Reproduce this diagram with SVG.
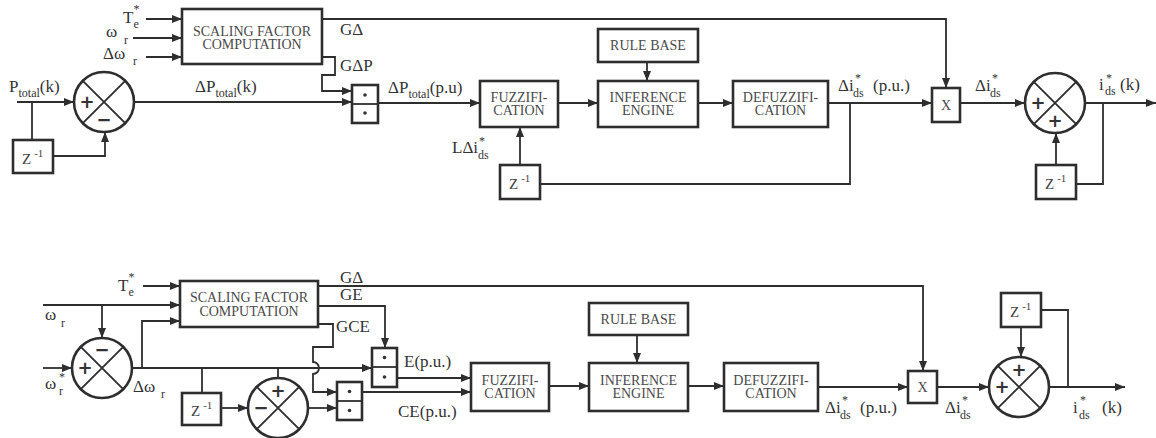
<svg xmlns="http://www.w3.org/2000/svg" width="1156" height="438" viewBox="0 0 1156 438">
<defs>
<marker id="a" viewBox="0 0 10 8" refX="10" refY="4" markerWidth="11" markerHeight="8" orient="auto" markerUnits="userSpaceOnUse"><path d="M0,0 L10,4 L0,8 z" fill="#2e2e2e"/></marker>
<style>
.bx{fill:none;stroke:#2e2e2e;stroke-width:2.6}
.ln{fill:none;stroke:#2e2e2e;stroke-width:1.8}
.ar{fill:none;stroke:#2e2e2e;stroke-width:1.8;marker-end:url(#a)}
.bt{font-family:"Liberation Serif",serif;font-size:14px;fill:#4a4a4a;text-anchor:middle}
.lb{font-family:"Liberation Serif",serif;font-size:17px;fill:#333}
.sb{font-size:12px}
.sg{font-family:"DejaVu Sans",sans-serif;font-size:18px;font-weight:bold;fill:#333;text-anchor:middle}
.zt{font-family:"Liberation Serif",serif;font-size:15px;fill:#444}
.zs{font-size:11px}
.dot{fill:#333}
</style>
</defs>
<rect width="1156" height="438" fill="#fff"/>

<g id="connectors">
<path class="ar" d="M146,19 H182"/>
<path class="ar" d="M133,38 H182"/>
<path class="ar" d="M146,57 H182"/>
<path class="ar" d="M322,19 H946 V88"/>
<path class="ar" d="M322,57 H335 V75 H322 V91 H352"/>
<path class="ar" d="M17,102 H74"/>
<path class="ln" d="M32,102 V140"/>
<path class="ar" d="M53,156 H105 V132"/>
<path class="ar" d="M134,102 H352"/>
<path class="ar" d="M378,103 H480"/>
<path class="ar" d="M558,103 H598"/>
<path class="ar" d="M647,62 V81"/>
<path class="ar" d="M698,103 H733"/>
<path class="ar" d="M828,103 H932"/>
<path class="ar" d="M520,165 V127"/>
<path class="ln" d="M540,184 H850 V103"/>
<path class="ar" d="M960,103 H1025"/>
<path class="ar" d="M1085,103 H1156"/>
<path class="ln" d="M1103,103 V184 H1076"/>
<path class="ar" d="M1056,165 V133"/>
<path class="ar" d="M143,286 H180"/>
<path class="ar" d="M43,305 H180"/>
<path class="ar" d="M102,305 V338"/>
<path class="ar" d="M43,368 H72"/>
<path class="ar" d="M132,368 H372"/>
<path class="ar" d="M142,368 V321 H180"/>
<path class="ar" d="M318,286 H923 V371"/>
<path class="ar" d="M318,306 H385 V348"/>
<path class="ar" d="M318,324 H333 V347 H313 V362 A6,6 0 0 1 313,374 V392 H337"/>
<path class="ln" d="M202,368 V393"/>
<path class="ar" d="M221,408 H248"/>
<path class="ln" d="M278,368 V378"/>
<path class="ar" d="M308,408 H337"/>
<path class="ar" d="M397,378 H471"/>
<path class="ar" d="M362,392 H471"/>
<path class="ar" d="M549,386 H589"/>
<path class="ar" d="M637,335 V363"/>
<path class="ar" d="M688,386 H724"/>
<path class="ar" d="M818,387 H908"/>
<path class="ar" d="M937,387 H989"/>
<path class="ar" d="M1049,387 H1125"/>
<path class="ln" d="M1068,387 V310 H1041"/>
<path class="ar" d="M1021,327 V357"/>
</g>

<g id="t-scaling"><rect class="bx" x="182" y="9" width="140" height="55"/>
<text class="bt" x="252" y="36">SCALING FACTOR</text><text class="bt" x="252" y="49">COMPUTATION</text></g>
<g id="t-sum1"><circle class="bx" cx="104" cy="102" r="30"/>
<path class="ln" d="M82.8,80.8 L125.2,123.2 M125.2,80.8 L82.8,123.2"/>
<text class="sg" x="87" y="108">+</text><text class="sg" x="104" y="126">−</text></g>
<g id="t-z1"><rect class="bx" x="13" y="140" width="40" height="33"/>
<text class="zt" x="22" y="164">Z<tspan class="zs" dx="3" dy="-7">-1</tspan></text></g>
<g id="t-mult"><rect class="bx" x="352" y="85" width="26" height="38"/>
<path class="ln" d="M352,104 H378"/><circle class="dot" cx="365" cy="95" r="1.8"/><circle class="dot" cx="365" cy="113" r="1.8"/></g>
<g id="t-fuzz"><rect class="bx" x="480" y="81" width="78" height="46"/>
<text class="bt" x="519" y="102">FUZZIFI-</text><text class="bt" x="519" y="115">CATION</text></g>
<g id="t-rule"><rect class="bx" x="598" y="29" width="100" height="33"/>
<text class="bt" x="648" y="50">RULE BASE</text></g>
<g id="t-inf"><rect class="bx" x="598" y="81" width="100" height="46"/>
<text class="bt" x="648" y="102">INFERENCE</text><text class="bt" x="648" y="115">ENGINE</text></g>
<g id="t-defuzz"><rect class="bx" x="733" y="81" width="95" height="46"/>
<text class="bt" x="780.5" y="102">DEFUZZIFI-</text><text class="bt" x="780.5" y="115">CATION</text></g>
<g id="t-z2"><rect class="bx" x="500" y="165" width="40" height="34"/>
<text class="zt" x="509" y="189">Z<tspan class="zs" dx="3" dy="-7">-1</tspan></text></g>
<g id="t-x"><rect class="bx" x="932" y="88" width="28" height="34"/>
<text class="bt" x="946" y="110">X</text></g>
<g id="t-sum2"><circle class="bx" cx="1055" cy="103" r="30"/>
<path class="ln" d="M1033.8,81.8 L1076.2,124.2 M1076.2,81.8 L1033.8,124.2"/>
<text class="sg" x="1038" y="109">+</text><text class="sg" x="1055" y="127">+</text></g>
<g id="t-z3"><rect class="bx" x="1036" y="165" width="40" height="34"/>
<text class="zt" x="1045" y="189">Z<tspan class="zs" dx="3" dy="-7">-1</tspan></text></g>

<g id="t-labels">
<text class="lb" x="123" y="23">T<tspan class="sb" x="133.5" y="13">*</tspan><tspan class="sb" x="133.5" y="28">e</tspan></text>
<text class="lb" x="106" y="37">ω<tspan class="sb" x="124" y="44">r</tspan></text>
<text class="lb" x="103" y="59">Δω<tspan class="sb" x="133" y="65">r</tspan></text>
<text class="lb" x="340" y="35">GΔ</text>
<text class="lb" x="340" y="71">GΔP</text>
<text class="lb" x="9" y="92">P<tspan class="sb" y="97">total</tspan><tspan y="92">(k)</tspan></text>
<text class="lb" x="195" y="92">ΔP<tspan class="sb" y="97">total</tspan><tspan y="92">(k)</tspan></text>
<text class="lb" x="388" y="93">ΔP<tspan class="sb" y="98">total</tspan><tspan y="93">(p.u)</tspan></text>
<text class="lb" x="452" y="153">LΔi<tspan class="sb" x="479" y="145">*</tspan><tspan class="sb" x="478" y="159">ds</tspan></text>
<text class="lb" x="838" y="91">Δi<tspan class="sb" x="855" y="82">*</tspan><tspan class="sb" x="853" y="97">ds</tspan><tspan x="873" y="91">(p.u.)</tspan></text>
<text class="lb" x="975" y="91">Δi<tspan class="sb" x="992" y="82">*</tspan><tspan class="sb" x="990" y="97">ds</tspan></text>
<text class="lb" x="1099" y="90">i<tspan class="sb" x="1106" y="82">*</tspan><tspan class="sb" x="1105" y="95">ds</tspan><tspan x="1120" y="90">(k)</tspan></text>
</g>

<g id="b-scaling"><rect class="bx" x="180" y="281" width="138" height="46"/>
<text class="bt" x="249" y="302">SCALING FACTOR</text><text class="bt" x="249" y="316">COMPUTATION</text></g>
<g id="b-sum1"><circle class="bx" cx="102" cy="368" r="30"/>
<path class="ln" d="M80.8,346.8 L123.2,389.2 M123.2,346.8 L80.8,389.2"/>
<text class="sg" x="85" y="374">+</text><text class="sg" x="102" y="356">−</text></g>
<g id="b-z1"><rect class="bx" x="182" y="393" width="39" height="32"/>
<text class="zt" x="191" y="416">Z<tspan class="zs" dx="3" dy="-7">-1</tspan></text></g>
<g id="b-sum2"><circle class="bx" cx="278" cy="408" r="30"/>
<path class="ln" d="M256.8,386.8 L299.2,429.2 M299.2,386.8 L256.8,429.2"/>
<text class="sg" x="278" y="397">+</text><text class="sg" x="261" y="414">−</text></g>
<g id="b-mult1"><rect class="bx" x="372" y="348" width="25" height="39"/>
<path class="ln" d="M372,367 H397"/><circle class="dot" cx="384.5" cy="357.5" r="1.8"/><circle class="dot" cx="384.5" cy="377" r="1.8"/></g>
<g id="b-mult2"><rect class="bx" x="337" y="382" width="25" height="38"/>
<path class="ln" d="M337,401 H362"/><circle class="dot" cx="349.5" cy="391.5" r="1.8"/><circle class="dot" cx="349.5" cy="410.5" r="1.8"/></g>
<g id="b-fuzz"><rect class="bx" x="471" y="363" width="78" height="48"/>
<text class="bt" x="510" y="385">FUZZIFI-</text><text class="bt" x="510" y="398">CATION</text></g>
<g id="b-rule"><rect class="bx" x="589" y="303" width="99" height="32"/>
<text class="bt" x="638.5" y="324">RULE BASE</text></g>
<g id="b-inf"><rect class="bx" x="589" y="363" width="99" height="48"/>
<text class="bt" x="638.5" y="385">INFERENCE</text><text class="bt" x="638.5" y="398">ENGINE</text></g>
<g id="b-defuzz"><rect class="bx" x="724" y="363" width="94" height="48"/>
<text class="bt" x="771" y="385">DEFUZZIFI-</text><text class="bt" x="771" y="398">CATION</text></g>
<g id="b-x"><rect class="bx" x="908" y="371" width="29" height="32"/>
<text class="bt" x="922.5" y="392">X</text></g>
<g id="b-sum3"><circle class="bx" cx="1019" cy="387" r="30"/>
<path class="ln" d="M997.8,365.8 L1040.2,408.2 M1040.2,365.8 L997.8,408.2"/>
<text class="sg" x="1019" y="376">+</text><text class="sg" x="1002" y="393">+</text></g>
<g id="b-z2"><rect class="bx" x="1001" y="293" width="40" height="34"/>
<text class="zt" x="1010" y="317">Z<tspan class="zs" dx="3" dy="-7">-1</tspan></text></g>

<g id="b-labels">
<text class="lb" x="118" y="291">T<tspan class="sb" x="128.5" y="281">*</tspan><tspan class="sb" x="128.5" y="296">e</tspan></text>
<text class="lb" x="45" y="320">ω<tspan class="sb" x="61" y="327">r</tspan></text>
<text class="lb" x="45" y="389">ω<tspan class="sb" x="59" y="381">*</tspan><tspan class="sb" x="59" y="395">r</tspan></text>
<text class="lb" x="133" y="392">Δω<tspan class="sb" x="161" y="398">r</tspan></text>
<text class="lb" x="340" y="283">GΔ</text>
<text class="lb" x="340" y="300">GE</text>
<text class="lb" x="336" y="332">GCE</text>
<text class="lb" x="404" y="367">E(p.u.)</text>
<text class="lb" x="398" y="417">CE(p.u.)</text>
<text class="lb" x="825" y="413">Δi<tspan class="sb" x="842" y="404">*</tspan><tspan class="sb" x="840" y="419">ds</tspan><tspan x="860" y="413">(p.u.)</tspan></text>
<text class="lb" x="945" y="413">Δi<tspan class="sb" x="962" y="404">*</tspan><tspan class="sb" x="960" y="419">ds</tspan></text>
<text class="lb" x="1073" y="413">i<tspan class="sb" x="1080" y="404">*</tspan><tspan class="sb" x="1079" y="419">ds</tspan><tspan x="1102" y="413">(k)</tspan></text>
</g>
</svg>
